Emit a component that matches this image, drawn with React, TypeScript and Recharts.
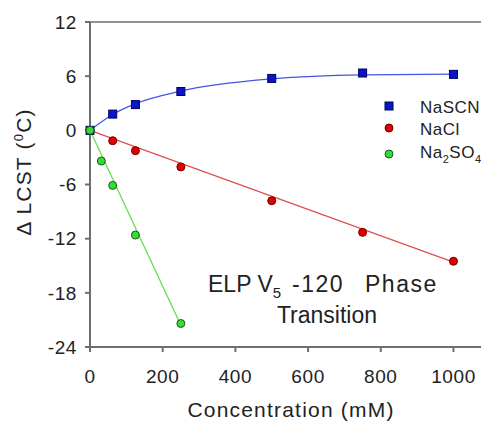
import React from 'react';
import { ComposedChart, Line, Scatter, XAxis, YAxis, Customized, ReferenceLine } from 'recharts';

const seriesNames = ['NaSCN', 'NaCl', 'Na2SO4'];
const xTicks = [0, 200, 400, 600, 800, 1000];
const yTicks = [-24, -18, -12, -6, 0, 6, 12];
const X_MAX = 1095;

const scnX = [0, 62.5, 125, 250, 500, 750, 1000];
const scnY = [0, 1.8, 2.85, 4.3, 5.75, 6.35, 6.2];
const scnFitY = [0, 1.75, 2.95, 4.35, 5.7, 6.15, 6.22];

const naclX = [0, 62.5, 125, 250, 500, 750, 1000];
const naclY = [0, -1.15, -2.25, -4.05, -7.8, -11.3, -14.5];
const naclFitX = [0, 1000];
const naclFitY = [0, -14.6];

const so4X = [0, 31.25, 62.5, 125, 250];
const so4Y = [0, -3.4, -6.1, -11.6, -21.4];
const so4FitX = [0, 250];
const so4FitY = [0, -21.6];

const zip = (xs: number[], ys: number[]) => xs.map((x, i) => ({ x, y: ys[i] }));

const scnPts = zip(scnX, scnY);
const scnFit = zip(scnX, scnFitY);
const naclPts = zip(naclX, naclY);
const naclFit = zip(naclFitX, naclFitY);
const so4Pts = zip(so4X, so4Y);
const so4Fit = zip(so4FitX, so4FitY);

const FONT = '"Liberation Sans", Arial, sans-serif';
const AXIS = '#6e6e6e';

const Square = (props: any) => {
  const { cx, cy } = props;
  return <rect x={cx - 4} y={cy - 4} width={8} height={8} fill="#0a14c8" stroke="#00005a" strokeWidth={1} />;
};
const RedDot = (props: any) => (
  <circle cx={props.cx} cy={props.cy} r={4} fill="#e00000" stroke="#6a0000" strokeWidth={1} />
);
const GreenDot = (props: any) => (
  <circle cx={props.cx} cy={props.cy} r={4} fill="#33dd33" stroke="#1a5a1a" strokeWidth={1} />
);

const Overlay = () => (
  <g fontFamily={FONT} fill="#222">
    {/* legend */}
    <rect x={385} y={102} width={8} height={8} fill="#0a14c8" stroke="#00005a" />
    <text x={420} y={113} fontSize={17} letterSpacing={0.5}>{seriesNames[0]}</text>
    <circle cx={389} cy={128} r={4} fill="#e00000" stroke="#6a0000" />
    <text x={420} y={135} fontSize={17} letterSpacing={0.5}>{seriesNames[1]}</text>
    <circle cx={389} cy={154} r={4} fill="#33dd33" stroke="#1a5a1a" />
    <text x={420} y={158} fontSize={17} letterSpacing={0.5}>
      Na<tspan fontSize={11} dy={5}>2</tspan><tspan dy={-5}>SO</tspan><tspan fontSize={11} dy={5}>4</tspan>
    </text>
    {/* annotation */}
    <text x={208} y={292} fontSize={23}>
      ELP V<tspan fontSize={15} dy={6}>5</tspan>
      <tspan x={292} dy={-6} letterSpacing={1.5}>-120</tspan>
      <tspan x={365} letterSpacing={1.5}>Phase</tspan>
    </text>
    <text x={327} y={323} fontSize={23} textAnchor="middle">Transition</text>
    {/* axis titles */}
    <text x={291} y={417} fontSize={21} textAnchor="middle" letterSpacing={1.2}>Concentration (mM)</text>
    <text transform="translate(31,172) rotate(-90)" fontSize={21} textAnchor="middle" letterSpacing={1.2}>
      Δ LCST (<tspan fontSize={13} dy={-8}>0</tspan><tspan dy={8}>C)</tspan>
    </text>
  </g>
);

export default function App() {
  return (
    <div style={{ marginLeft: -8, marginTop: -8 }}>
      <ComposedChart width={489} height={423} margin={{ top: 21, right: 1, bottom: 0, left: 0 }}>
        <XAxis
          xAxisId="b"
          type="number"
          dataKey="x"
          domain={[0, X_MAX]}
          ticks={xTicks}
          height={76}
          tickSize={5}
          tickMargin={18}
          stroke={AXIS}
          strokeWidth={2}
          tick={{ fill: '#222', fontSize: 19, fontFamily: FONT, letterSpacing: 0.6 }}
        />
        <XAxis xAxisId="t" type="number" orientation="top" domain={[0, X_MAX]} height={1} tick={false} tickLine={false} stroke={AXIS} strokeWidth={1.5} />
        <YAxis
          yAxisId="l"
          type="number"
          dataKey="y"
          domain={[-24, 12]}
          ticks={yTicks}
          width={90}
          tickSize={5}
          tickMargin={8}
          stroke={AXIS}
          strokeWidth={2}
          tick={{ fill: '#222', fontSize: 19, fontFamily: FONT, letterSpacing: 0.6 }}
        />
        <ReferenceLine xAxisId="b" yAxisId="l" x={X_MAX} stroke={AXIS} strokeWidth={1.5} ifOverflow="visible" />
        <Line xAxisId="b" yAxisId="l" data={naclFit} dataKey="y" type="linear" stroke="#e05050" strokeWidth={1.3} dot={false} isAnimationActive={false} />
        <Line xAxisId="b" yAxisId="l" data={so4Fit} dataKey="y" type="linear" stroke="#66dd55" strokeWidth={1.3} dot={false} isAnimationActive={false} />
        <Line xAxisId="b" yAxisId="l" data={scnFit} dataKey="y" type="monotone" stroke="#4455e6" strokeWidth={1.3} dot={false} isAnimationActive={false} />
        <Scatter xAxisId="b" yAxisId="l" data={naclPts} dataKey="y" shape={RedDot} isAnimationActive={false} />
        <Scatter xAxisId="b" yAxisId="l" data={scnPts} dataKey="y" shape={Square} isAnimationActive={false} />
        <Scatter xAxisId="b" yAxisId="l" data={so4Pts} dataKey="y" shape={GreenDot} isAnimationActive={false} />
        <Customized component={Overlay} />
      </ComposedChart>
    </div>
  );
}
